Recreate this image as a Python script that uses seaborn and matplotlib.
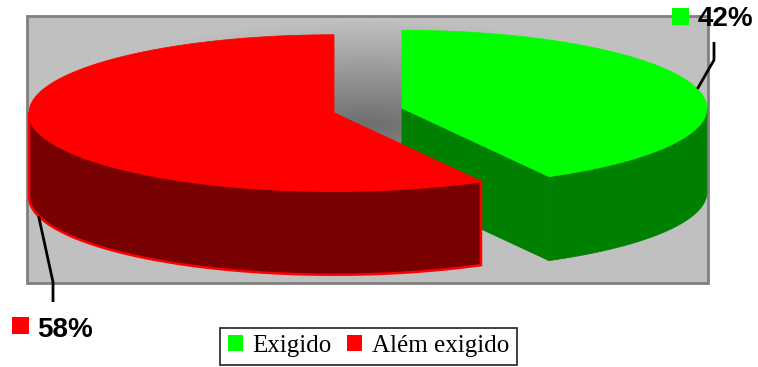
import numpy as np
import matplotlib.pyplot as plt
from matplotlib.patches import Polygon, Rectangle, Patch
import seaborn as sns

# data
categories = ["Exigido", "Além exigido"]
values = [42, 58]
top_colors = ["#00ff00", "#ff0000"]
side_colors = ["#008000", "#780000"]
edge_colors = [None, "#ff0000"]

sns.set_style("white")
plt.rcParams['font.family'] = ['Liberation Sans', 'DejaVu Sans']
plt.rcParams['text.color'] = 'black'

fig = plt.figure(figsize=(7.58, 3.67), dpi=100)
ax = fig.add_axes([0, 0, 1, 1])

# plot area: grey box with a darker centre
x0, x1, y0, y1 = 27, 708, 16, 283
gx, gy = np.meshgrid(np.linspace(x0, x1, 400), np.linspace(y0, y1, 200))
t = np.clip(np.sqrt(((gx - 368) / 330) ** 2 + ((gy - 125) / 105) ** 2), 0, 1)
shade = 0.43 + (0.753 - 0.43) * t
ax.imshow(shade, cmap='gray', vmin=0, vmax=1, extent=[x0, x1, y1, y0],
          aspect='auto', zorder=0)
ax.add_patch(Rectangle((x0, y0), x1 - x0, y1 - y0, fill=False,
                       ec='#808080', lw=2, zorder=1))

# 3d pie geometry
cx, cy = 368, 110.5
a, b = 305, 78
depth = 84
explode = 0.115


def ell(xc, yc, th, dz=0.0):
    th = np.atleast_1d(th)
    return np.column_stack([xc + a * np.sin(th), yc - b * np.cos(th) + dz])


fracs = np.array(values) / sum(values)
ends = np.cumsum(fracs) * 2 * np.pi
starts = ends - fracs * 2 * np.pi
mids = (starts + ends) / 2
centers = [(cx + explode * a * np.sin(m), cy - explode * b * np.cos(m)) for m in mids]

order = np.argsort([c[1] for c in centers])
for i in order:
    s, e = starts[i], ends[i]
    xc, yc = centers[i]
    c0 = np.array([[xc, yc]])
    ec = edge_colors[i] or side_colors[i]
    lw = 1.8 if edge_colors[i] else 0.5
    # radial faces facing the viewer
    for ang, sign in [(e, 1), (s, -1)]:
        if np.cos(ang + sign * np.pi / 2) < -1e-6:
            p = ell(xc, yc, ang)
            face = np.vstack([c0, p, p + [0, depth], c0 + [0, depth]])
            ax.add_patch(Polygon(face, closed=True, fc=side_colors[i], ec=ec, lw=lw, zorder=2))
    # curved outer side (front half only)
    lo, hi = max(s, np.pi / 2), min(e, 3 * np.pi / 2)
    if hi > lo:
        th = np.linspace(lo, hi, 200)
        top = ell(xc, yc, th)
        side = np.vstack([top, ell(xc, yc, th[::-1], depth)])
        ax.add_patch(Polygon(side, closed=True, fc=side_colors[i], ec=ec, lw=lw, zorder=2))
    # top face
    th = np.linspace(s, e, 300)
    topface = np.vstack([c0, ell(xc, yc, th)])
    ax.add_patch(Polygon(topface, closed=True, fc=top_colors[i], ec=top_colors[i], lw=0.5, zorder=2))

# percentage labels with leader lines
label_pos = [(714, 42), (53, 302)]
text_pos = [(698, 26), (37, 337)]
square_pos = [(672, 8), (12, 317)]
for i in range(len(values)):
    xc, yc = centers[i]
    m = mids[i]
    dz = depth if np.cos(m) < 0 else 0
    anc = ell(xc, yc, m, dz)[0]
    lx, ly = label_pos[i]
    elbow_y = ly - 20 if ly > anc[1] else ly + 18
    ax.plot([anc[0], lx, lx], [anc[1], elbow_y, ly], color='black', lw=2, zorder=3,
            solid_capstyle='butt')
    sx, sy = square_pos[i]
    ax.add_patch(Rectangle((sx, sy), 17, 17, fc=top_colors[i], ec='none', zorder=3))
    ax.text(text_pos[i][0], text_pos[i][1], f"{values[i]}%", fontsize=20,
            fontweight='bold', ha='left', va='baseline', zorder=3)

ax.set_xlim(0, 758)
ax.set_ylim(367, 0)
ax.axis('off')

handles = [Patch(fc=c, ec='none') for c in top_colors]
leg = fig.legend(handles, categories, loc='center', bbox_to_anchor=(0.486, 0.057),
                 ncol=2, frameon=True, fancybox=False, edgecolor='black',
                 prop={'family': 'Liberation Serif', 'size': 18},
                 handlelength=0.6, handleheight=0.6, handletextpad=0.4,
                 columnspacing=0.6, borderpad=0.3, borderaxespad=0)
leg.get_frame().set_linewidth(1.3)

plt.savefig("out.png", dpi=100)
